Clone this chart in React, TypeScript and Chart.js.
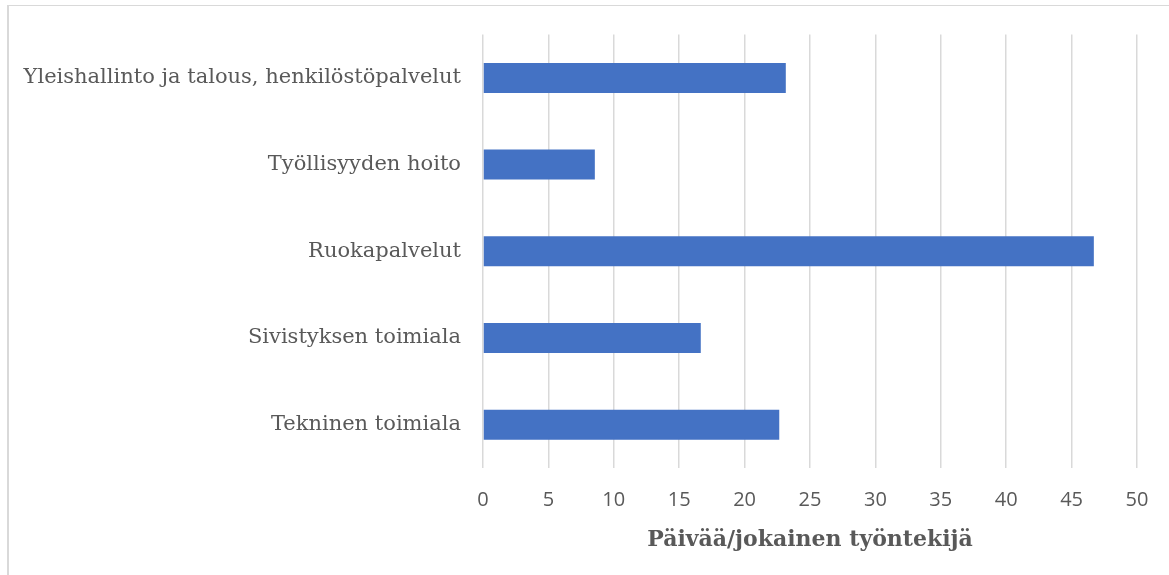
import React, { useEffect, useRef } from "react";
import { Chart, registerables } from "chart.js";

Chart.register(...registerables);

const categories = [
  "Yleishallinto ja talous, henkilöstöpalvelut",
  "Työllisyyden hoito",
  "Ruokapalvelut",
  "Sivistyksen toimiala",
  "Tekninen toimiala",
];
const values = [23.15, 8.55, 46.7, 16.65, 22.65];
const xMin = 0;
const xMax = 50;
const xStep = 5;
const axisTitle = "Päivää/jokainen työntekijä";

const frame = {
  id: "frame",
  beforeDraw(chart: any) {
    const ctx = chart.ctx;
    ctx.save();
    ctx.fillStyle = "#ffffff";
    ctx.fillRect(0, 0, chart.width, chart.height);
    ctx.fillStyle = "#d9d9d9";
    ctx.fillRect(7, 5, chart.width, 1);
    ctx.fillRect(7, 5, 2, chart.height);
    ctx.restore();
  },
};

export default function App() {
  const ref = useRef<HTMLCanvasElement>(null);
  useEffect(() => {
    if (!ref.current) return;
    const chart = new Chart(ref.current, {
      type: "bar",
      data: {
        labels: categories,
        datasets: [
          {
            data: values,
            backgroundColor: "#4472C4",
            borderWidth: 0,
            categoryPercentage: 1,
            barPercentage: 0.346,
          },
        ],
      },
      options: {
        indexAxis: "y",
        animation: false,
        responsive: true,
        maintainAspectRatio: false,
        layout: { padding: { left: 0, right: 32, top: 34, bottom: 0 } },
        plugins: {
          legend: { display: false },
          tooltip: { enabled: false },
        },
        scales: {
          x: {
            min: xMin,
            max: xMax,
            afterFit: (s: any) => {
              s.height = 107;
            },
            ticks: {
              stepSize: xStep,
              color: "#595959",
              padding: 20,
              font: { family: "'Open Sans'", size: 20 },
            },
            grid: { color: "#d9d9d9", lineWidth: 1.5, drawTicks: false },
            border: { display: false },
            title: {
              display: true,
              text: axisTitle,
              color: "#595959",
              font: { family: "'DejaVu Serif'", size: 22, weight: "bold" },
              padding: { top: 22, bottom: 22 },
            },
          },
          y: {
            afterFit: (s: any) => {
              s.width = 483;
            },
            ticks: {
              color: "#595959",
              padding: 22,
              font: { family: "'DejaVu Serif'", size: 21 },
            },
            grid: { display: false, drawTicks: false },
            border: { display: false },
          },
        },
      },
      plugins: [frame],
    });
    return () => chart.destroy();
  }, []);
  return (
    <div style={{ position: "absolute", left: 0, top: 0, width: 1169, height: 575 }}>
      <canvas ref={ref} />
    </div>
  );
}
